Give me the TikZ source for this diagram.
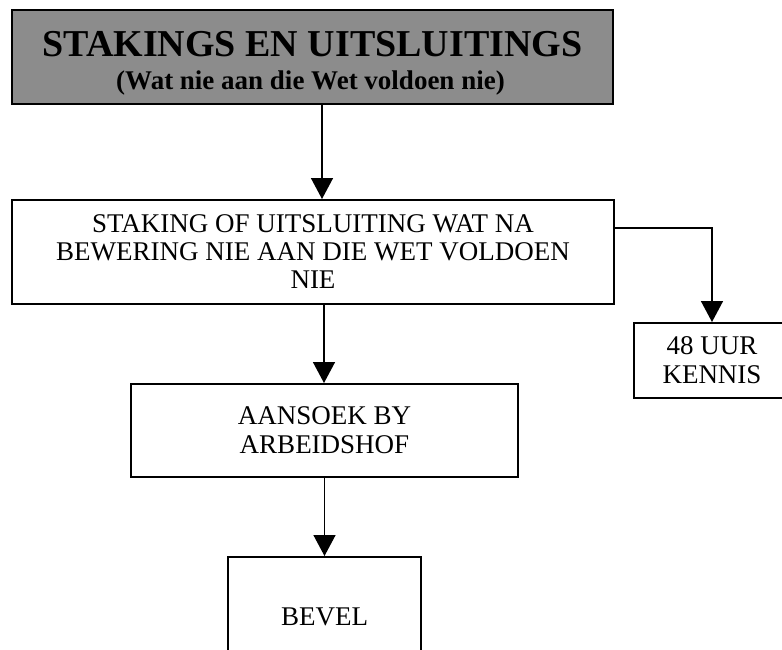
\documentclass[tikz,border=0pt]{standalone}
\usepackage{fontspec}
\setmainfont{Liberation Serif}
\usetikzlibrary{arrows.meta}
\begin{document}
\begin{tikzpicture}[x=1pt,y=-1pt,
  box/.style={draw, line width=2pt, rectangle, inner sep=0pt, align=center,
              font=\fontsize{27}{28}\selectfont},
  arr/.style={-{Triangle[length=21pt,width=22pt]}, line width=1.5pt},
  titletext/.style={inner sep=0pt, font=\bfseries\fontsize{38}{40}\selectfont},
  subtext/.style={inner sep=0pt, font=\bfseries\fontsize{27}{28}\selectfont}]
\useasboundingbox (0,0) rectangle (782,649);
\clip (0,0) rectangle (782,649);
% title
\node[box, fill=black!45, minimum width=601pt, minimum height=94pt] (title) at (312.5,57) {};
\node[titletext] (t1) at (312.5,44) {STAKINGS EN UITSLUITINGS};
\node[subtext] (t2) at (310.5,83) {(Wat nie aan die Wet voldoen nie)};
% boxes
\node[box, minimum width=602pt, minimum height=104pt] (staking) at (313,252)
  {STAKING OF UITSLUITING WAT NA\\BEWERING NIE AAN DIE WET VOLDOEN\\NIE};
\node[box, font=\fontsize{27}{29}\selectfont, minimum width=387pt, minimum height=93pt] (aansoek) at (324.5,430.5)
  {AANSOEK BY\\ARBEIDSHOF};
\node[box, font=\fontsize{27}{29}\selectfont, minimum width=156pt, minimum height=75pt] (kennis) at (712,360.5)
  {48 UUR\\KENNIS};
\node[box, minimum width=193pt, minimum height=120pt] (bevel) at (324.5,617) {BEVEL};
% connectors
\draw[arr] ([xshift=9.5pt]title.south) -- ([xshift=9pt]staking.north);
\draw[arr] ([xshift=11pt]staking.south) -- ([xshift=-0.5pt]aansoek.north);
\draw[arr] (aansoek.south) -- (bevel.north);
\draw[arr] ([yshift=24pt]staking.east) -| (kennis.north);
\end{tikzpicture}
\end{document}
